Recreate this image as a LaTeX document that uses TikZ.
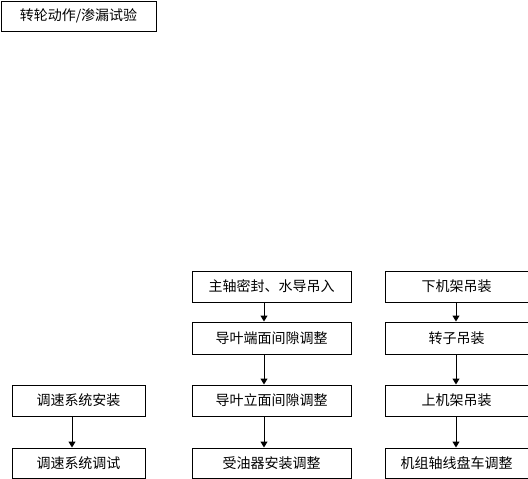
\documentclass[tikz,border=0pt]{standalone}
\usepackage{fontspec}
\newfontfamily\cjk{Noto Sans CJK SC}
\usetikzlibrary{arrows.meta}
\begin{document}
\begin{tikzpicture}[x=1pt,y=-1pt,
  box/.style={draw,line width=1pt,inner sep=0pt,font=\cjk\fontsize{14}{16}\selectfont},
  link/.style={line width=1pt,-{Triangle[width=7pt,length=6pt]}}]
\useasboundingbox (0,0) rectangle (528,479);
\clip (0,0) rectangle (528,479);
\coordinate (ax) at (72,0);
\coordinate (bx) at (264,0);
\coordinate (cx) at (456,0);
\node[box,minimum width=155pt,minimum height=30pt] (t) at (78.5,16) {转轮动作/渗漏试验};
\node[box,minimum width=133pt,minimum height=31pt] (l1) at (78.5,400.5) {调速系统安装};
\node[box,minimum width=133pt,minimum height=30pt] (l2) at (78.5,463) {调速系统调试};
\node[box,minimum width=159pt,minimum height=31pt] (m1) at (271.5,286.5) {主轴密封、水导吊入};
\node[box,minimum width=159pt,minimum height=32pt] (m2) at (271.5,338) {导叶端面间隙调整};
\node[box,minimum width=159pt,minimum height=31pt] (m3) at (271.5,400.5) {导叶立面间隙调整};
\node[box,minimum width=159pt,minimum height=30pt] (m4) at (271.5,463) {受油器安装调整};
\node[box,minimum width=143pt,minimum height=31pt] (r1) at (456.5,286.5) {下机架吊装};
\node[box,minimum width=143pt,minimum height=32pt] (r2) at (456.5,338) {转子吊装};
\node[box,minimum width=143pt,minimum height=31pt] (r3) at (456.5,400.5) {上机架吊装};
\node[box,minimum width=143pt,minimum height=30pt] (r4) at (456.5,463) {机组轴线盘车调整};
\draw[link] (l1.south -| ax) -- (l2.north -| ax);
\draw[link] (m1.south -| bx) -- (m2.north -| bx);
\draw[link] (m2.south -| bx) -- (m3.north -| bx);
\draw[link] (m3.south -| bx) -- (m4.north -| bx);
\draw[link] (r1.south -| cx) -- (r2.north -| cx);
\draw[link] (r2.south -| cx) -- (r3.north -| cx);
\draw[link] (r3.south -| cx) -- (r4.north -| cx);
\end{tikzpicture}
\end{document}
